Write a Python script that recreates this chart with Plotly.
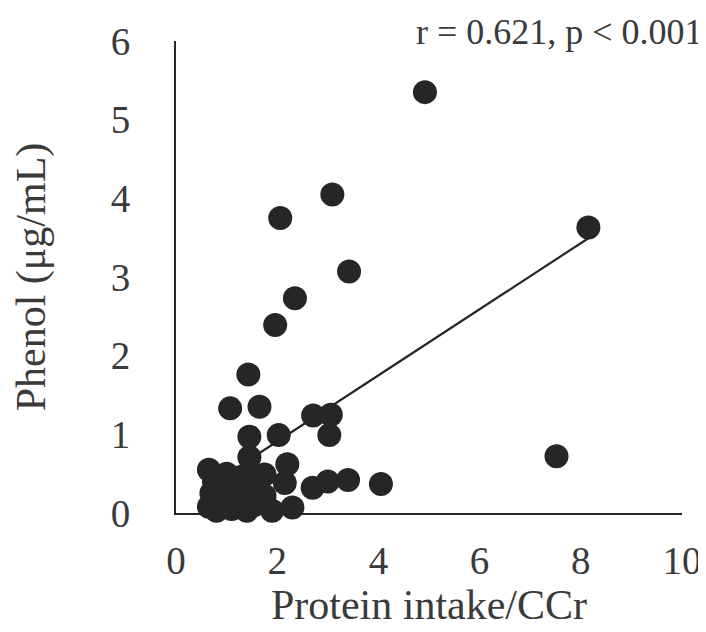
import plotly.graph_objects as go
import numpy as np

# Protein intake/CCr (x) and Phenol (y) values
protein_ccr = [
    4.92, 8.15, 7.52, 3.09, 2.06, 3.42, 2.35, 1.96,
    1.43, 1.07, 1.65, 1.45, 2.03, 2.71, 3.06, 3.03,
    1.45, 2.20, 1.75, 2.15, 2.70, 3.00, 3.40, 4.05, 2.30, 1.90,
    0.65, 0.75, 0.70, 0.65, 0.80, 0.95, 0.90, 1.00, 1.10, 1.20,
    1.30, 1.25, 1.40, 1.50, 1.55, 1.60, 1.75, 1.10, 0.85, 1.35,
]
phenol = [
    5.35, 3.63, 0.72, 4.05, 3.75, 3.07, 2.73, 2.39,
    1.76, 1.33, 1.35, 0.97, 0.99, 1.24, 1.25, 0.99,
    0.71, 0.62, 0.49, 0.38, 0.32, 0.40, 0.42, 0.37, 0.07, 0.03,
    0.55, 0.40, 0.25, 0.08, 0.03, 0.15, 0.35, 0.50, 0.30, 0.08,
    0.25, 0.45, 0.03, 0.30, 0.10, 0.45, 0.22, 0.05, 0.18, 0.12,
]

# trend line
trend_slope = 0.42
trend_intercept = 0.07
stat_text = "r = 0.621, p < 0.001"

x_ticks = [0, 2, 4, 6, 8, 10]
y_ticks = [0, 1, 2, 3, 4, 5, 6]

FONT = "Liberation Serif, Times New Roman, serif"
INK = "#262626"
TXT = "#3a3a3a"

fig = go.Figure()
fig.add_trace(go.Scatter(
    x=protein_ccr, y=phenol, mode="markers",
    marker=dict(size=24, color=INK, line=dict(width=0)),
    showlegend=False, cliponaxis=False,
))
xfit = np.array([min(protein_ccr), max(protein_ccr)])
fig.add_trace(go.Scatter(
    x=xfit, y=trend_slope * xfit + trend_intercept, mode="lines",
    line=dict(color=INK, width=2.2), showlegend=False,
))

fig.update_layout(
    width=706, height=632,
    margin=dict(l=168, r=26, t=32, b=127),
    paper_bgcolor="white", plot_bgcolor="white",
    font=dict(family=FONT, size=39, color=TXT),
    annotations=[dict(
        text=stat_text, xref="paper", yref="paper", x=1.045, y=1.02,
        xanchor="right", yanchor="middle", showarrow=False,
        font=dict(family=FONT, size=36, color=TXT),
    )],
)
fig.update_xaxes(
    range=[0, 10], tickvals=x_ticks, showgrid=False, zeroline=False,
    showline=True, linecolor=INK, linewidth=2, ticks="",
    ticklabelstandoff=12,
    title=dict(text="Protein intake/CCr", standoff=6, font=dict(size=42)),
)
fig.update_yaxes(
    range=[0, 6], tickvals=y_ticks, showgrid=False, zeroline=False,
    showline=True, linecolor=INK, linewidth=2, ticks="",
    ticklabelstandoff=36,
    title=dict(text="Phenol (μg/mL)", standoff=52, font=dict(size=42)),
)

fig.write_html("out.html")
